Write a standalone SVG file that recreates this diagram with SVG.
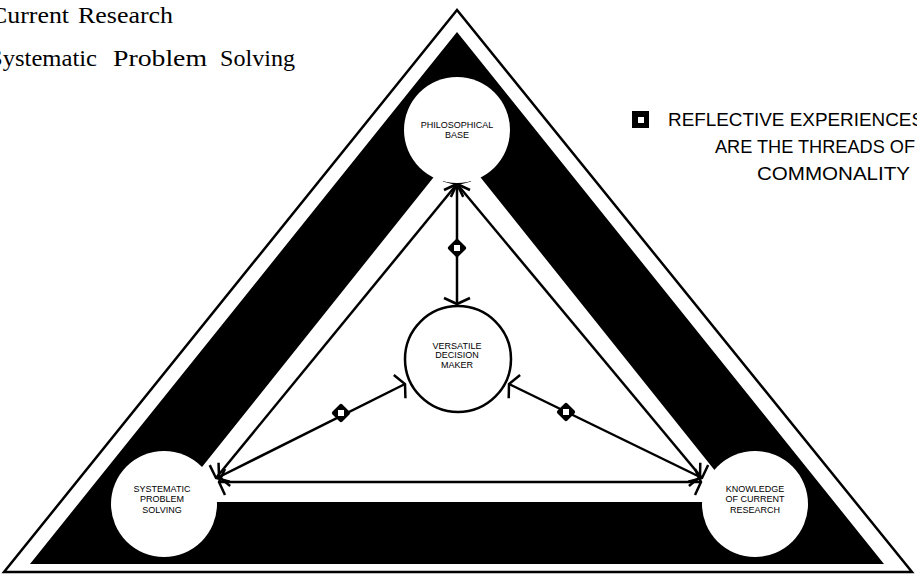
<svg xmlns="http://www.w3.org/2000/svg" width="917" height="575" viewBox="0 0 917 575">
<style>
.conn{fill:none;stroke:#000;stroke-width:2.5;marker-start:url(#ah);marker-end:url(#ah)}
.nt{font-family:"Liberation Sans",Arial,sans-serif;font-size:9px;fill:#000;text-anchor:middle}
.leg{font-family:"Liberation Sans",Arial,sans-serif;font-size:19px;fill:#000}
.top{font-family:"Liberation Serif","Times New Roman",serif;font-size:23px;fill:#000}
.wc{fill:#fff;stroke:none}
</style>
<defs>
<marker id="ah" viewBox="-10 -18 14 36" markerWidth="14" markerHeight="36" refX="0" refY="0" orient="auto-start-reverse" markerUnits="userSpaceOnUse">
<path d="M-6,-13 L0,0 L-6,13" fill="none" stroke="#000" stroke-width="2.5"/>
</marker>
<g id="dia">
<rect x="-7" y="-7" width="14" height="14" rx="2" fill="#000" transform="rotate(45)"/>
<rect x="-3" y="-3" width="6" height="6" fill="#fff"/>
</g>
</defs>
<rect width="917" height="575" fill="#fff"/>
<g id="frame">
<polygon points="457,10 4,572 912,572" fill="none" stroke="#000" stroke-width="2.5"/>
<path d="M457,32 L30,564 L884,564 Z M457,148 L174,502 L740,502 Z" fill="#000" fill-rule="evenodd"/>
</g>
<g id="connectors">
<line class="conn" x1="457" y1="184" x2="216" y2="478"/>
<line class="conn" x1="457" y1="184" x2="702" y2="478"/>
<line class="conn" x1="219" y1="482" x2="701" y2="482"/>
<line class="conn" x1="457" y1="184" x2="457" y2="304"/>
<line class="conn" x1="405" y1="384" x2="219" y2="477"/>
<line class="conn" x1="509" y1="384" x2="700" y2="477"/>
<use href="#dia" x="457" y="248"/>
<use href="#dia" x="341" y="413"/>
<use href="#dia" x="566" y="412"/>
</g>
<g id="philosophical">
<circle class="wc" cx="457" cy="130" r="53"/>
<text class="nt" x="457" y="128">PHILOSOPHICAL</text>
<text class="nt" x="457" y="138">BASE</text>
</g>
<g id="versatile">
<circle cx="458" cy="359" r="53" fill="#fff" stroke="#000" stroke-width="2.5"/>
<text class="nt" x="457" y="349">VERSATILE</text>
<text class="nt" x="457" y="358">DECISION</text>
<text class="nt" x="457" y="368">MAKER</text>
</g>
<g id="systematic">
<circle class="wc" cx="164" cy="504" r="53"/>
<text class="nt" x="162" y="492">SYSTEMATIC</text>
<text class="nt" x="162" y="502">PROBLEM</text>
<text class="nt" x="162" y="513">SOLVING</text>
</g>
<g id="knowledge">
<circle class="wc" cx="755" cy="504" r="53"/>
<text class="nt" x="755" y="492">KNOWLEDGE</text>
<text class="nt" x="755" y="502">OF CURRENT</text>
<text class="nt" x="755" y="513">RESEARCH</text>
</g>
<g id="legend">
<rect x="632" y="111" width="17" height="17" fill="#000"/>
<rect x="638" y="117" width="6" height="6" fill="#fff"/>
<text class="leg" x="668" y="126" textLength="256" lengthAdjust="spacingAndGlyphs">REFLECTIVE EXPERIENCES</text>
<text class="leg" x="715" y="153" textLength="200" lengthAdjust="spacingAndGlyphs">ARE THE THREADS OF</text>
<text class="leg" x="757" y="180" textLength="153" lengthAdjust="spacingAndGlyphs">COMMONALITY</text>
</g>
<g id="titles">
<text class="top" y="23"><tspan x="-10" textLength="79" lengthAdjust="spacingAndGlyphs">Current</tspan><tspan x="78" textLength="95" lengthAdjust="spacingAndGlyphs">Research</tspan></text>
<text class="top" y="66"><tspan x="-11" textLength="108" lengthAdjust="spacingAndGlyphs">Systematic</tspan><tspan x="113" textLength="94" lengthAdjust="spacingAndGlyphs">Problem</tspan><tspan x="220" textLength="75" lengthAdjust="spacingAndGlyphs">Solving</tspan></text>
</g>
</svg>
